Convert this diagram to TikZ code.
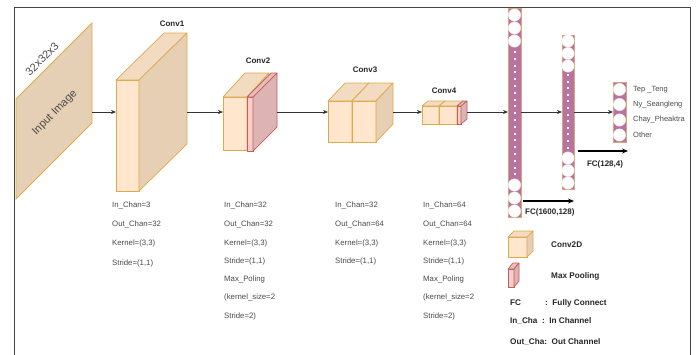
\documentclass[tikz,border=0pt]{standalone}
\usepackage{fontspec}
\setmainfont{Liberation Sans}
\usetikzlibrary{arrows.meta}
\definecolor{cfront}{HTML}{FFE6CC}
\definecolor{ctop}{HTML}{F2DBC0}
\definecolor{cside}{HTML}{E6CFB3}
\definecolor{cline}{HTML}{DDAA4C}
\definecolor{pfront}{HTML}{F8CECC}
\definecolor{ptop}{HTML}{E9BDBC}
\definecolor{pside}{HTML}{DEB3B4}
\definecolor{pline}{HTML}{C0605C}
\definecolor{fccol}{HTML}{B8739F}
\definecolor{fcline}{HTML}{D6A57A}
\definecolor{imgfill}{HTML}{E6D0B5}
\definecolor{txtgray}{HTML}{4A4A4A}
\definecolor{frame}{HTML}{444444}
% x1 y1 x2 y2 dx dy prefix
\newcommand\cuboid[7]{%
 \filldraw[fill=#7front,draw=#7line,line width=0.7pt] (#1,#2) rectangle (#3,#4);
 \filldraw[fill=#7top,draw=#7line,line width=0.7pt,line join=round] (#1,#2) -- ({#1+#5},{#2+#6}) -- ({#3+#5},{#2+#6}) -- (#3,#2) -- cycle;
 \filldraw[fill=#7side,draw=#7line,line width=0.7pt,line join=round] (#3,#2) -- ({#3+#5},{#2+#6}) -- ({#3+#5},{#4+#6}) -- (#3,#4) -- cycle;}
% column: x1 x2 ytop ybot
\newcommand\fccolumn[4]{%
 \filldraw[fill=fccol,draw=fcline,line width=0.6pt] (#1,#3) rectangle (#2,#4);}
\newcommand\neuron[2]{%
 \filldraw[fill=white,draw=white!80!fccol,line width=0.4pt] (#1,#2) circle [radius=6.2pt];}
\newcommand\dotsq[2]{%
 \fill[white] ({#1-1},{#2-1}) rectangle ({#1+1},{#2+1});}
\tikzset{
 arr/.style={draw=black!80,line width=0.6pt,-{Stealth[length=5pt,width=4pt]}},
 bigarr/.style={draw=black,line width=1.3pt,-{Stealth[length=6pt,width=5pt]}},
 ptxt/.style={anchor=west,inner sep=0pt,text=txtgray,font=\fontsize{7.8}{9}\selectfont},
 lbl/.style={inner sep=0pt,text=black!85,font=\fontsize{8}{9}\selectfont\bfseries},
 outtxt/.style={anchor=west,inner sep=0pt,text=txtgray,font=\fontsize{7.5}{9}\selectfont},
 legtxt/.style={anchor=west,inner sep=0pt,text=black!85,font=\fontsize{8.2}{9}\selectfont\bfseries},
 rottxt/.style={rotate=45,inner sep=0pt,text=txtgray,font=\fontsize{11}{12}\selectfont},
}
\begin{document}
\begin{tikzpicture}[x=1pt,y=-1pt]
\useasboundingbox (0,0) rectangle (696,354);
% frame
\draw[frame,line width=1.5pt] (14.5,360) -- (14.5,7.5) -- (690.5,7.5) -- (690.5,360);
% input image
\filldraw[fill=imgfill,draw=cline,line width=0.8pt] (16,99) -- (92,23) -- (92,123) -- (16,199) -- cycle;
\node[rottxt] (dim) at (42,59) {32x32x3};
\node[rottxt] (inimg) at (55,113) {Input Image};
\coordinate (in-r) at (92,112);
% conv1
\cuboid{116}{80}{139}{191}{48}{-47}{c}
\coordinate (c1-l) at (116,112);
\coordinate (c1-r) at (187,112);
\node[lbl] (c1lbl) at (172,24) {Conv1};
% conv2
\cuboid{223}{97}{247}{150}{22}{-24}{c}
\cuboid{247}{97}{253}{151}{24}{-24}{p}
\coordinate (c2-l) at (223,112);
\coordinate (c2-r) at (277,112);
\node[lbl] (c2lbl) at (258,61) {Conv2};
% conv3
\cuboid{328}{101}{352}{142}{17}{-18}{c}
\cuboid{352}{101}{376}{142}{17}{-18}{c}
\coordinate (c3-l) at (328,112);
\coordinate (c3-r) at (393,112);
\node[lbl] (c3lbl) at (365,70) {Conv3};
% conv4
\cuboid{422}{106}{439}{124}{6}{-5}{c}
\cuboid{439}{106}{457}{124}{6}{-5}{c}
\cuboid{457}{106}{461}{124}{6}{-5}{p}
\coordinate (c4-l) at (422,112);
\coordinate (c4-r) at (467,112);
\node[lbl] (c4lbl) at (444,91) {Conv4};
% FC1 column
\fccolumn{508}{521}{8}{217}
\foreach \y in {15,28,41,185,198,211} {\neuron{514.5}{\y}}
\foreach \i in {0,...,18} {\dotsq{514.5}{52+\i*6.8}}
\coordinate (f1-l) at (508,112);
\coordinate (f1-r) at (521,112);
% FC2 column
\fccolumn{562}{574}{35}{189}
\foreach \y in {41,53.5,66,158,170.5,183} {\neuron{568}{\y}}
\foreach \i in {0,...,11} {\dotsq{568}{75+\i*6.6}}
\coordinate (f2-l) at (562,112);
\coordinate (f2-r) at (574,112);
% FC3 column
\fccolumn{613}{626}{82}{142}
\foreach \y in {89.5,104.5,120,135} {\neuron{619.5}{\y}}
\coordinate (f3-l) at (613,112);
% output labels
\node[outtxt] (o1) at (633,89.5) {Tep \_Teng};
\node[outtxt] (o2) at (633,104.5) {Ny\_Seangleng};
\node[outtxt] (o3) at (633,120) {Chay\_Pheaktra};
\node[outtxt] (o4) at (633,135) {Other};
% connectors
\draw[arr] (in-r) -- (c1-l);
\draw[arr] (c1-r) -- (c2-l);
\draw[arr] (c2-r) -- (c3-l);
\draw[arr] (c3-r) -- (c4-l);
\draw[arr] (c4-r) -- (f1-l);
\draw[arr] (f1-r) -- (f2-l);
\draw[arr] (f2-r) -- (f3-l);
% FC arrows
\coordinate (a1s) at (523,201);
\coordinate (a1e) at (574,201);
\draw[bigarr] (a1s) -- (a1e);
\node[lbl,anchor=west] (fc1lbl) at (525,212) {FC(1600,128)};
\coordinate (a2s) at (578,151);
\coordinate (a2e) at (628,151);
\draw[bigarr] (a2s) -- (a2e);
\node[lbl] (fc2lbl) at (605,164) {FC(128,4)};
% parameter texts
\node[ptxt] (p1a) at (112,205) {In\_Chan=3};
\node[ptxt] (p1b) at (112,224) {Out\_Chan=32};
\node[ptxt] (p1c) at (112,243) {Kernel=(3,3)};
\node[ptxt] (p1d) at (112,263) {Stride=(1,1)};
\node[ptxt] (p2a) at (224,205) {In\_Chan=32};
\node[ptxt] (p2b) at (224,224) {Out\_Chan=32};
\node[ptxt] (p2c) at (224,243) {Kernel=(3,3)};
\node[ptxt] (p2d) at (224,261) {Stride=(1,1)};
\node[ptxt] (p2e) at (224,279) {Max\_Poling};
\node[ptxt] (p2f) at (224,297) {(kernel\_size=2};
\node[ptxt] (p2g) at (224,316) {Stride=2)};
\node[ptxt] (p3a) at (335,205) {In\_Chan=32};
\node[ptxt] (p3b) at (335,224) {Out\_Chan=64};
\node[ptxt] (p3c) at (335,243) {Kernel=(3,3)};
\node[ptxt] (p3d) at (335,261) {Stride=(1,1)};
\node[ptxt] (p4a) at (423,205) {In\_Chan=64};
\node[ptxt] (p4b) at (423,224) {Out\_Chan=64};
\node[ptxt] (p4c) at (423,243) {Kernel=(3,3)};
\node[ptxt] (p4d) at (423,261) {Stride=(1,1)};
\node[ptxt] (p4e) at (423,279) {Max\_Poling};
\node[ptxt] (p4f) at (423,297) {(kernel\_size=2};
\node[ptxt] (p4g) at (423,316) {Stride=2)};
% legend
\cuboid{508}{237}{527}{257}{6}{-6}{c}
\node[legtxt] (lg1) at (551,245) {Conv2D};
\cuboid{508}{269}{514}{287}{5}{-6}{p}
\node[legtxt] (lg2) at (551,276) {Max Pooling};
\node[legtxt] (lg3) at (510,303) {FC};
\node[legtxt] (lg3b) at (545,303) {:\ \ Fully Connect};
\node[legtxt] (lg4) at (510,321) {In\_Cha\ \ :\ \ In Channel};
\node[legtxt] (lg5) at (510,342) {Out\_Cha:\ \ Out Channel};
\end{tikzpicture}
\end{document}
